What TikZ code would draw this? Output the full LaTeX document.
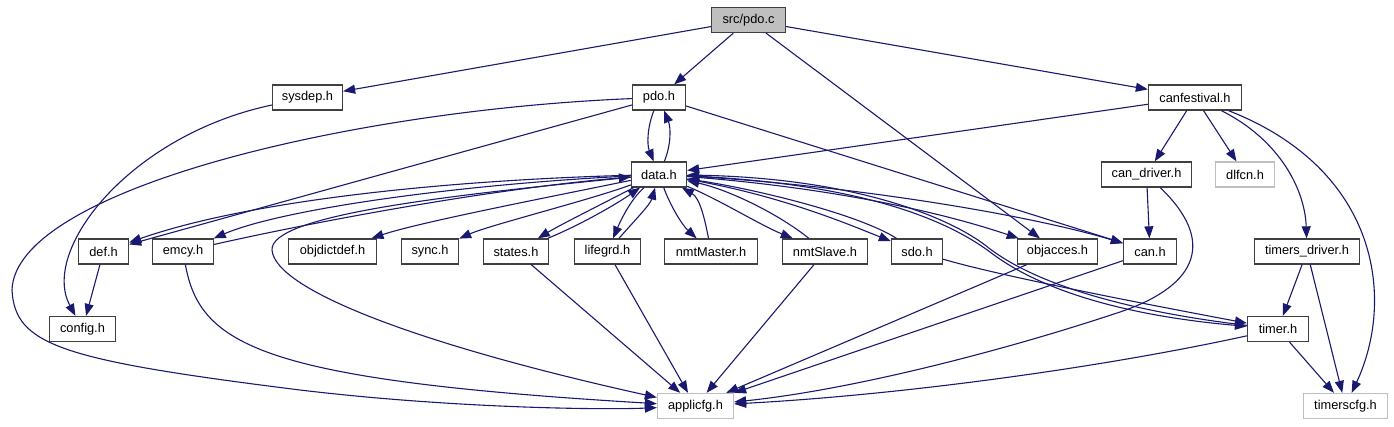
\documentclass[tikz,border=0pt]{standalone}
\usepackage{fontspec}
\setmainfont{Liberation Sans}
\usetikzlibrary{arrows.meta}
\definecolor{edgeblue}{HTML}{191970}
\definecolor{boxline}{HTML}{404040}
\definecolor{greyline}{HTML}{BFBFBF}
\definecolor{rootfill}{HTML}{BFBFBF}
\begin{document}
\begin{tikzpicture}[x=1pt,y=-1pt,
  filebox/.style={draw=boxline, line width=1.3pt, minimum height=25pt, inner sep=0pt, font=\fontsize{12.8}{15}\selectfont, fill=white},
  extbox/.style={filebox, draw=greyline},
  rootbox/.style={filebox, fill=rootfill},
  dep/.style={draw=edgeblue, line width=1.1pt, -{Triangle[length=12pt,width=9pt]}}]
\useasboundingbox (0,0) rectangle (1394,427);
% nodes
\node[rootbox, minimum width=74pt] (pdoc) at (748.5,20) {src/pdo.c};
\node[filebox, minimum width=70pt] (sysdep) at (307.5,97.5) {sysdep.h};
\node[filebox, minimum width=53pt] (pdoh) at (659,97.5) {pdo.h};
\node[filebox, minimum width=93pt] (canfest) at (1195,97.5) {canfestival.h};
\node[filebox, minimum width=55pt] (datah) at (659,174.5) {data.h};
\node[filebox, minimum width=90pt] (candrv) at (1146.5,174.5) {can\_driver.h};
\node[extbox, minimum width=59pt] (dlfcn) at (1245,174.5) {dlfcn.h};
\node[filebox, minimum width=50pt] (defh) at (103.5,251.5) {def.h};
\node[filebox, minimum width=61pt] (emcy) at (183,251.5) {emcy.h};
\node[filebox, minimum width=88pt] (objdictdef) at (332.5,251.5) {objdictdef.h};
\node[filebox, minimum width=57pt] (sync) at (430,251.5) {sync.h};
\node[filebox, minimum width=65pt] (states) at (516,251.5) {states.h};
\node[filebox, minimum width=66pt] (lifegrd) at (607.5,251.5) {lifegrd.h};
\node[filebox, minimum width=93pt] (nmtMaster) at (711,251.5) {nmtMaster.h};
\node[filebox, minimum width=85pt] (nmtSlave) at (825,251.5) {nmtSlave.h};
\node[filebox, minimum width=51pt] (sdo) at (917,251.5) {sdo.h};
\node[filebox, minimum width=80pt] (objacces) at (1057.5,251.5) {objacces.h};
\node[filebox, minimum width=53pt] (can) at (1150,251.5) {can.h};
\node[filebox, minimum width=105pt] (timersdrv) at (1307,251.5) {timers\_driver.h};
\node[filebox, minimum width=66pt] (config) at (82.5,329) {config.h};
\node[filebox, minimum width=61pt] (timer) at (1278,329) {timer.h};
\node[extbox, minimum width=76pt] (applicfg) at (695.5,406) {applicfg.h};
\node[extbox, minimum width=84pt] (timerscfg) at (1345.5,406) {timerscfg.h};
% edges from src/pdo.c
\draw[dep] (pdoc) -- (sysdep);
\draw[dep] (pdoc) -- (pdoh);
\draw[dep] (pdoc) -- (objacces);
\draw[dep] (pdoc) -- (canfest);
% sysdep.h, def.h
\draw[dep] (sysdep) .. controls (130,135) and (40,250) .. (config);
\draw[dep] (defh) -- (config);
% pdo.h
\draw[dep] (pdoh) .. controls (647,128) and (647,145) .. (datah);
\draw[dep] (pdoh) -- (defh);
\draw[dep] (pdoh) -- (can);
\draw[dep] (pdoh) .. controls (350,110) and (15,190) .. (12,290) .. controls (15,345) and (60,360) .. (300,390) .. controls (450,408) and (600,410) .. (applicfg);
% canfestival.h
\draw[dep] (canfest) -- (datah);
\draw[dep] (canfest) -- (candrv);
\draw[dep] (canfest) -- (dlfcn);
\draw[dep] (canfest) .. controls (1280,140) and (1305,190) .. (timersdrv);
\draw[dep] (canfest) .. controls (1380,170) and (1395,300) .. (timerscfg);
% can_driver.h
\draw[dep] (candrv) -- (can);
\draw[dep] (candrv) .. controls (1215,240) and (1200,285) .. (1120,312) .. controls (1000,352) and (850,390) .. (applicfg);
% data.h
\draw[dep] (datah) .. controls (671,145) and (671,128) .. (pdoh);
\draw[dep] (datah) .. controls (450,180) and (250,200) .. (defh);
\draw[dep] (datah) .. controls (450,185) and (280,210) .. (emcy);
\draw[dep] (datah) .. controls (560,195) and (420,222) .. (objdictdef);
\draw[dep] (datah) .. controls (590,200) and (490,225) .. (sync);
\draw[dep] (datah) .. controls (600,205) and (560,225) .. (states);
\draw[dep] (datah) .. controls (630,200) and (620,222) .. (lifegrd);
\draw[dep] (datah) .. controls (670,205) and (682,225) .. (nmtMaster);
\draw[dep] (datah) .. controls (720,200) and (760,225) .. (nmtSlave);
\draw[dep] (datah) .. controls (780,195) and (850,225) .. (sdo);
\draw[dep] (datah) .. controls (800,185) and (920,205) .. (objacces);
\draw[dep] (datah) .. controls (850,185) and (1030,215) .. (can);
\draw[dep] (datah) .. controls (850,183) and (940,215) .. (990,252) .. controls (1050,298) and (1150,318) .. (timer);
\draw[dep] (datah) .. controls (450,195) and (270,215) .. (272,250) .. controls (275,290) and (420,345) .. (applicfg);
% back edges to data.h
\draw[dep] (emcy) .. controls (300,225) and (480,190) .. (datah);
\draw[dep] (states) .. controls (580,225) and (615,205) .. (datah);
\draw[dep] (lifegrd) .. controls (635,220) and (650,205) .. (datah);
\draw[dep] (nmtMaster) .. controls (705,220) and (700,198) .. (datah);
\draw[dep] (nmtSlave) .. controls (780,215) and (730,190) .. (datah);
\draw[dep] (sdo) .. controls (860,215) and (760,190) .. (datah);
\draw[dep] (timer) .. controls (1150,314) and (1040,290) .. (985,245) .. controls (945,215) and (850,178) .. (datah);
% to applicfg.h
\draw[dep] (emcy) .. controls (200,345) and (260,380) .. (applicfg);
\draw[dep] (states) -- (applicfg);
\draw[dep] (lifegrd) -- (applicfg);
\draw[dep] (nmtSlave) -- (applicfg);
\draw[dep] (objacces) -- (applicfg);
\draw[dep] (can) -- (applicfg);
\draw[dep] (timer) .. controls (1100,368) and (900,395) .. (applicfg);
% sdo.h, timers
\draw[dep] (sdo) .. controls (1000,276) and (1150,305) .. (timer);
\draw[dep] (timersdrv) -- (timer);
\draw[dep] (timersdrv) -- (timerscfg);
\draw[dep] (timer) -- (timerscfg);
\end{tikzpicture}
\end{document}
